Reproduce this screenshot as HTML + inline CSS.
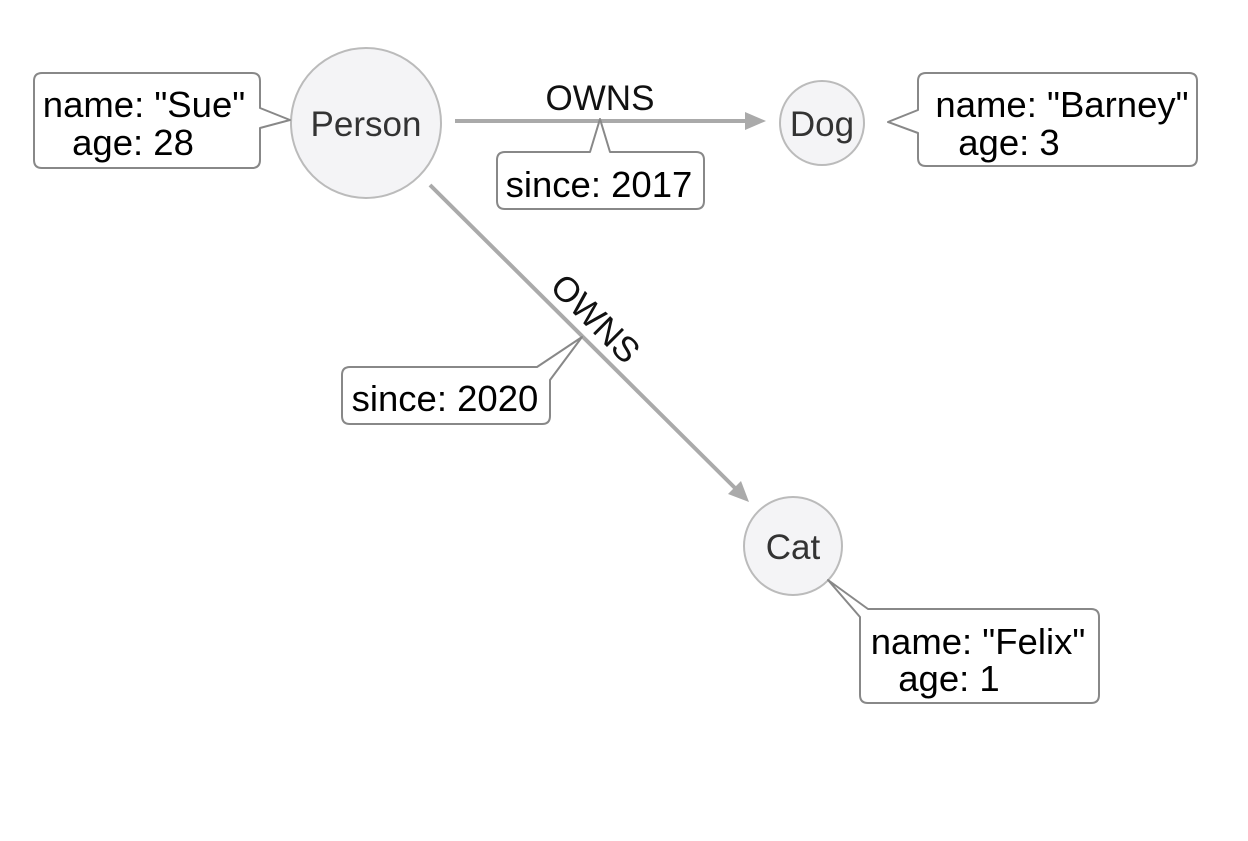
<!DOCTYPE html>
<html><head><style>
html,body{margin:0;padding:0;background:#fff;}
svg text{font-family:"Liberation Sans",Arial,sans-serif;}
</style></head><body>
<svg width="1248" height="836" viewBox="0 0 1248 836" xmlns="http://www.w3.org/2000/svg">
<line x1="455" y1="121" x2="748" y2="121" stroke="#aaa" stroke-width="4"/>
<polygon points="766,121 745,112 745,130" fill="#aaa"/>
<line x1="430" y1="185" x2="736" y2="489" stroke="#aaa" stroke-width="4"/>
<polygon points="749,502 728,494 741,481" fill="#aaa"/>
<text x="600" y="110" font-size="35" text-anchor="middle" fill="#111">OWNS</text>
<text x="0" y="0" font-size="35" text-anchor="middle" fill="#111" transform="translate(587,327) rotate(45)">OWNS</text>
<circle cx="366" cy="123" r="75" fill="#f4f4f6" stroke="#bbb" stroke-width="2"/>
<text x="366" y="136" font-size="35" text-anchor="middle" fill="#333">Person</text>
<circle cx="822" cy="123" r="42" fill="#f4f4f6" stroke="#bbb" stroke-width="2"/>
<text x="822" y="136" font-size="35" text-anchor="middle" fill="#333">Dog</text>
<circle cx="793" cy="546" r="49" fill="#f4f4f6" stroke="#bbb" stroke-width="2"/>
<text x="793" y="559" font-size="35" text-anchor="middle" fill="#333">Cat</text>
<g fill="#fff" stroke="#888" stroke-width="2" stroke-linejoin="round">
<path d="M42,73 H252 Q260,73 260,81 V108 L290,120 L260,128 V160 Q260,168 252,168 H42 Q34,168 34,160 V81 Q34,73 42,73 Z"/>
<path d="M505,152 H590 L600,119 L610,152 H696 Q704,152 704,160 V201 Q704,209 696,209 H505 Q497,209 497,201 V160 Q497,152 505,152 Z"/>
<path d="M926,73 H1189 Q1197,73 1197,81 V158 Q1197,166 1189,166 H926 Q918,166 918,158 V133 L888,122 L918,110 V81 Q918,73 926,73 Z"/>
<path d="M350,367 H537 L582,337 L550,380 V416 Q550,424 542,424 H350 Q342,424 342,416 V375 Q342,367 350,367 Z"/>
<path d="M868,609 H1091 Q1099,609 1099,617 V695 Q1099,703 1091,703 H868 Q860,703 860,695 V617 L828,580 L868,609 Z"/>
</g>
<g font-size="36.5" fill="#000" text-anchor="middle">
<text x="144" y="117">name: "Sue"</text>
<text x="133" y="155">age: 28</text>
<text x="599" y="197">since: 2017</text>
<text x="1062" y="117">name: "Barney"</text>
<text x="1009" y="155">age: 3</text>
<text x="445" y="411">since: 2020</text>
<text x="978" y="654">name: "Felix"</text>
<text x="949" y="691">age: 1</text>
</g>
</svg>
</body></html>
